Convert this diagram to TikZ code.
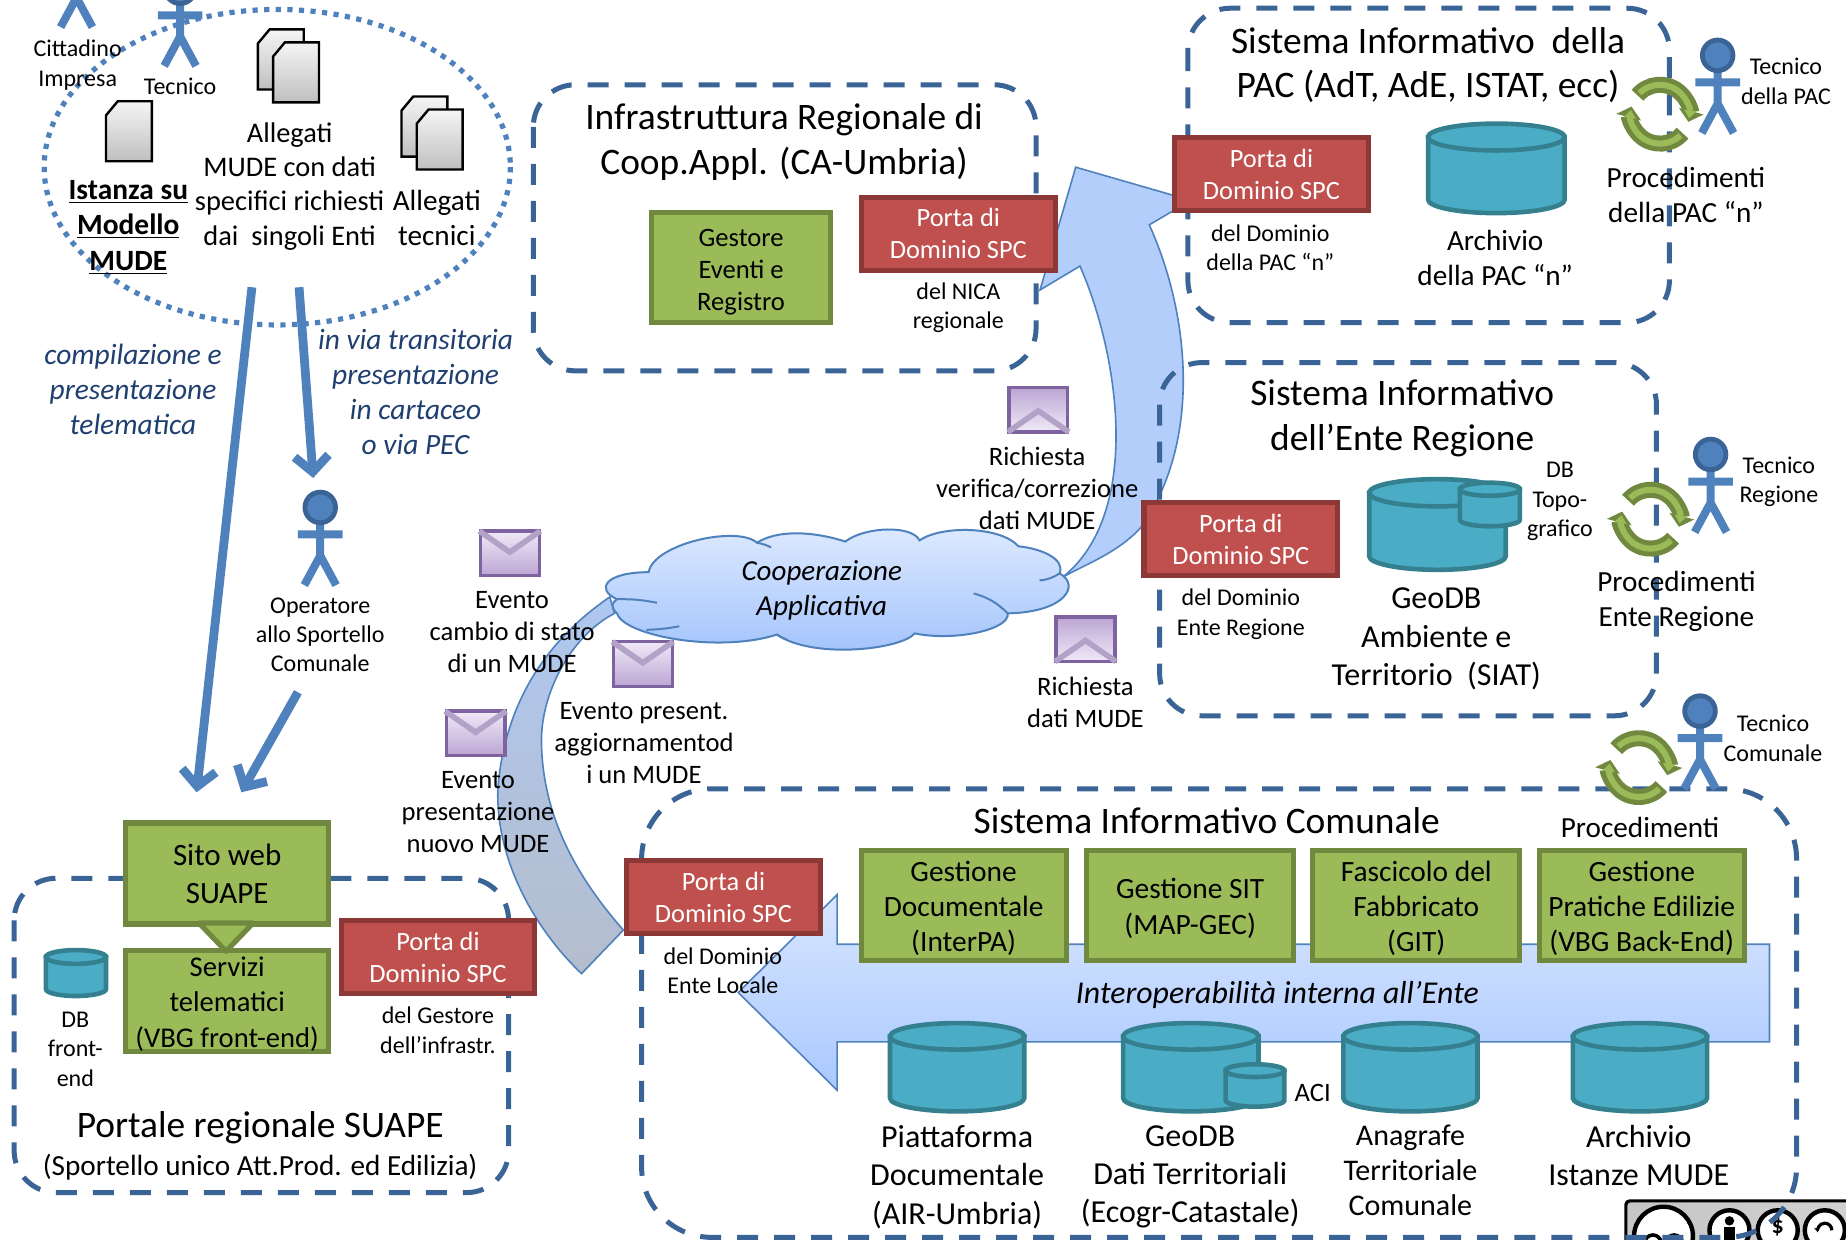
\documentclass[tikz,border=0pt]{standalone}
\usepackage{fontspec}
\setmainfont{Carlito}
\usetikzlibrary{arrows.meta}

\definecolor{bluline}{HTML}{4F81BD}
\definecolor{bluscuro}{HTML}{3B6496}
\definecolor{testoblu}{HTML}{1F3F70}
\definecolor{rosso}{HTML}{C0504D}
\definecolor{rossoscuro}{HTML}{8C3836}
\definecolor{verde}{HTML}{9BBB59}
\definecolor{verdescuro}{HTML}{71893F}
\definecolor{ciano}{HTML}{4BACC6}
\definecolor{cianoscuro}{HTML}{35808F}
\definecolor{frecciaalta}{HTML}{D8E6FF}
\definecolor{frecciabassa}{HTML}{AAC8FF}
\definecolor{frecciamedia}{HTML}{B4CEFC}
\definecolor{grigioalto}{HTML}{AFC8F0}
\definecolor{grigiomedio}{HTML}{A3B3CD}
\definecolor{grigiobasso}{HTML}{B4BDCC}
\definecolor{nuvolaalta}{HTML}{DEEAFF}
\definecolor{nuvolabassa}{HTML}{A0C2FB}
\definecolor{bustabordo}{HTML}{7F62A0}
\definecolor{bustapiega}{HTML}{B3A2C7}
\definecolor{bustachiara}{HTML}{F0EAF8}
\definecolor{bustascura}{HTML}{BBA5D3}

\newcommand{\spinta}{\rule{0pt}{13.2pt}}
\newcommand{\cilindro}[4]{%
        \pgfmathsetmacro{\dbcx}{(#1+#3)/2}%
        \pgfmathsetmacro{\dbrx}{(#3-#1)/2}%
        \pgfmathsetmacro{\dbry}{(#4-#2)*.15}%
        \pgfmathsetmacro{\dbya}{#2+\dbry}%
        \pgfmathsetmacro{\dbyb}{#4-\dbry}%
        \draw[dbcil] (#1,\dbya) -- (#1,\dbyb) arc[start angle=180,end angle=0,x radius=\dbrx,y radius=\dbry] -- (#3,\dbya) -- cycle;
        \draw[dbcil] (\dbcx,\dbya) ellipse [x radius=\dbrx,y radius=\dbry];
}

\tikzset{
        regione/.style={draw=bluscuro,line width=2.5pt,dash pattern=on 10.5pt off 8pt,rounded corners=21pt},
        portabox/.style={draw=rossoscuro,fill=rosso,line width=2.6pt,minimum width=96.8pt,minimum height=36.5pt,inner sep=0pt,align=center,text=white,font=\fontsize{13.2}{16}\selectfont},
        verdebox/.style={draw=verdescuro,fill=verde,line width=2.6pt,inner sep=0pt,align=center,font=\fontsize{14.7}{17.6}\selectfont},
        dbcil/.style={draw=cianoscuro,fill=ciano,line width=2.3pt},
        blocco/.style={draw=bluline,line width=.8pt},
        flusso/.style={draw=bluline,line width=4.4pt,-{Straight Barb[length=8pt,width=17pt]}},
        foglio/.style={draw=black,line width=1.2pt,top color=gray!8,bottom color=gray!50},
        txs/.style={inner sep=0pt,align=center,yshift=-.7pt,font=\fontsize{12}{14.7}\selectfont},
        txm/.style={inner sep=0pt,align=center,font=\fontsize{13.3}{16}\selectfont},
        txn/.style={inner sep=0pt,align=center,yshift=-.7pt,font=\fontsize{14.6}{17.2}\selectfont},
        txg/.style={inner sep=0pt,align=center,yshift=-.7pt,font=\fontsize{16}{19.2}\selectfont},
        txt/.style={inner sep=0pt,align=center,yshift=-1pt,font=\fontsize{18.7}{22.2}\selectfont},
        txblu/.style={inner sep=0pt,align=center,text=testoblu,font=\fontsize{14.7}{17.4}\selectfont\itshape},
        attore/.pic={
                \draw[bluline,line width=4pt] (0,10) -- (0,41) (-19,23) -- (19,23) (-13.5,66) -- (0,41) -- (13.5,66);
                \filldraw[fill=bluline,draw=bluscuro,line width=2.4pt] (0,0) circle (13);
        },
        ciclo/.pic={
                \draw[verdescuro,line width=8pt,-{Triangle[length=5.5pt,width=12.5pt]}] (-140:25) arc[start angle=-140,end angle=15,radius=25];
                \draw[verdescuro,line width=8pt,-{Triangle[length=5.5pt,width=12.5pt]}] (40:25) arc[start angle=40,end angle=195,radius=25];
                \draw[verde,line width=3pt,-{Triangle[length=4pt,width=6pt]}] (-134:25) arc[start angle=-134,end angle=8,radius=25];
                \draw[verde,line width=3pt,-{Triangle[length=4pt,width=6pt]}] (46:25) arc[start angle=46,end angle=188,radius=25];
        },
        doc/.pic={
                \draw[foglio] (10,0) -- (39,0) -- (39,51) -- (0,51) -- (0,12) -- cycle;
        },
        busta/.pic={
                \draw[draw=bustabordo,line width=1.6pt,top color=bustachiara,bottom color=bustascura] (-25,-19) rectangle (25,19);
                \draw[bustapiega,line width=2.8pt] (-26,-19) -- (0,-1) -- (26,-19);
        },
        bustaup/.pic={
                \draw[draw=bustabordo,line width=1.6pt,top color=bustascura,bottom color=bustachiara] (-25,-19) rectangle (25,19);
                \draw[bustapiega,line width=2.8pt] (-26,19) -- (0,1) -- (26,19);
        }
}

\begin{document}
\begin{tikzpicture}[x=.5886pt,y=-.5886pt]
        \useasboundingbox (0,0) rectangle (1568,1052.5);
        \clip (0,0) rectangle (1568,1052.5);

        \draw[draw=black,line width=1.6pt,rounded corners=2pt,left color=gray!45,right color=gray!35] (1381,1020) rectangle (1600,1090);
        \filldraw[fill=white,draw=black,line width=2.2pt] (1413,1050) circle (25);
        \filldraw[fill=white,draw=black,line width=2.2pt] (1469,1045) circle (17);
        \filldraw[fill=white,draw=black,line width=2.2pt] (1510,1045) circle (17);
        \filldraw[fill=white,draw=black,line width=2.2pt] (1550,1045) circle (17);
        \draw[black,line width=1.8pt] (1404,1056) circle (7) (1422,1056) circle (7);
        \fill[black] (1469,1037) circle (4);
        \fill[black] (1464,1042.5) rectangle (1474,1056);
        \node[inner sep=0pt,font=\bfseries\fontsize{12}{12}\selectfont] (ccdollaro) at (1510,1042) {\$};
        \draw[black,line width=1.6pt,-{Stealth[length=3pt]}] (1556,1045) arc[start angle=0,end angle=-200,radius=6];

        \draw[blocco,top color=frecciaalta,bottom color=frecciabassa] (1503,802) -- (711,802) -- (711,760) -- (627,843) -- (711,926) -- (711,885) -- (1503,885) -- cycle;

        \draw[blocco,fill=frecciamedia] (913.7,142) -- (883.4,246.3) -- (917.3,226) .. controls (950,300) and (971,435) .. (903,490) .. controls (925,478) and (948,470) .. (968.3,449) .. controls (1020,378) and (1012,270) .. (976.2,191) -- (1011.4,170.2) -- cycle;

        \draw[blocco,top color=grigioalto,middle color=grigiomedio,bottom color=grigiobasso] (518,507) .. controls (470,540) and (430,590) .. (423,668) .. controls (420,730) and (455,790) .. (494,827) -- (529.5,790) .. controls (490,745) and (462,695) .. (460,634) .. controls (458,590) and (485,540) .. (522,521) -- cycle;

        \draw[regione] (453,72) rectangle (880,315);
        \draw[regione] (1009,7) rectangle (1418,274);
        \draw[regione] (985,308) rectangle (1407,608);
        \draw[regione,rounded corners=35pt] (545,670) rectangle (1526,1051);
        \draw[regione] (12,746) rectangle (432,1013);

        \draw[draw=bluline,line width=1pt,top color=nuvolaalta,bottom color=nuvolabassa] (524,509) .. controls (505,500) and (515,486) .. (551,486) .. controls (555,462) and (626,446) .. (643,461) .. controls (660,450) and (690,451) .. (718,460) .. controls (735,447) and (775,446) .. (781,459) .. controls (800,446) and (850,447) .. (865,464) .. controls (885,466) and (905,475) .. (900,487) .. controls (918,497) and (905,520) .. (856,521) .. controls (858,535) and (810,545) .. (777,538) .. controls (765,552) and (690,560) .. (660,539) .. controls (610,555) and (530,540) .. (524,521) .. controls (518,515) and (520,512) .. (524,509) -- cycle;
        \draw[bluline,line width=1pt] (524,509) to[bend left=6] (558,512) (643,461) to[bend left=8] (655,465) (900,487) to[bend left=14] (883,493) (827,504) to[bend left=14] (856,521) (660,539) to[bend right=8] (668,543) (577,532) to[bend left=4] (549,535);

        \draw[draw=bluline,line width=2.6pt,dash pattern=on 2.6pt off 3.2pt] (235.5,142) ellipse [x radius=198,y radius=134];
        \coordinate (uscitaA) at (214,244);
        \coordinate (sitoA) at (167,673);
        \coordinate (uscitaB) at (254,244);
        \coordinate (operA) at (266,406);
        \coordinate (operB) at (253,588);
        \coordinate (sitoB) at (205,673);
        \draw[flusso] (uscitaA) -- (sitoA);
        \draw[flusso] (uscitaB) -- (operA);
        \draw[flusso] (operB) -- (sitoB);

        \pic at (65,-43) {attore};
        \pic at (153,-10) {attore};
        \pic at (272,431) {attore};
        \pic at (1459,47) {attore};
        \pic at (1453,386) {attore};
        \pic at (1444,604) {attore};
        \pic at (1410,97) {ciclo};
        \pic at (1402,441) {ciclo};
        \pic at (1392,652) {ciclo};

        \pic at (90,86) {doc};
        \pic at (219,25) {doc};
        \pic at (232,36) {doc};
        \pic at (341,82) {doc};
        \pic at (354,93) {doc};

        \pic at (433,470) {busta};
        \pic at (546,564) {busta};
        \pic at (404,623) {busta};
        \pic at (882,348) {bustaup};
        \pic at (922,543) {bustaup};

        \node[verdebox,minimum width=89.5pt,minimum height=55pt,font=\fontsize{13.3}{16}\selectfont] (gestore) at (629.5,227.5) {\spinta Gestore\\Eventi e\\Registro};
        \node[portabox] (portanica) at (814,198.5) {Porta di\\Dominio SPC};
        \node[portabox] (portapac) at (1080,148) {Porta di\\Dominio SPC};
        \node[portabox] (portareg) at (1054,458) {Porta di\\Dominio SPC};
        \node[portabox] (portacom) at (614.5,762) {Porta di\\Dominio SPC};
        \node[portabox] (portasuape) at (372,813) {Porta di\\Dominio SPC};

        \node[verdebox,minimum width=101.5pt,minimum height=50.5pt,font=\fontsize{15.5}{18.8}\selectfont] (sito) at (193,742) {Sito web\\SUAPE};
        \node[verdebox,minimum width=101.5pt,minimum height=50.5pt,font=\fontsize{14.3}{17.6}\selectfont] (servizi) at (193,850) {\spinta Servizi\\telematici\\(VBG front-end)};
        \draw[draw=verdescuro,fill=verde,line width=2.6pt,line join=round] (169,784) -- (215,784) -- (192,808) -- cycle;

        \node[verdebox,minimum width=102.5pt,minimum height=55pt] (gesdoc) at (818.5,769) {\spinta Gestione\\Documentale\\(InterPA)};
        \node[verdebox,minimum width=103.5pt,minimum height=55pt] (gessit) at (1011,769) {\spinta Gestione SIT\\(MAP-GEC)};
        \node[verdebox,minimum width=103.5pt,minimum height=55pt] (gesfab) at (1203,769) {\spinta Fascicolo del\\Fabbricato\\(GIT)};
        \node[verdebox,minimum width=102.5pt,minimum height=55pt] (gespra) at (1394.5,769) {\spinta Gestione\\Pratiche Edilizie\\(VBG Back-End)};

        \cilindro{1213}{105}{1329}{181}
        \cilindro{1163}{407}{1279}{484}
        \cilindro{1240}{410}{1291}{447}
        \cilindro{756}{869}{870}{944}
        \cilindro{954}{869}{1069}{944}
        \cilindro{1041}{904}{1091}{940}
        \cilindro{1141}{869}{1255}{944}
        \cilindro{1336}{869}{1450}{944}
        \cilindro{39}{807}{90}{846}

        \node[txs] (cittadino) at (66,54) {Cittadino\\Impresa};
        \node[txs] (tecnico) at (153,72) {Tecnico};
        \node[txn,font=\fontsize{14.2}{17.2}\selectfont] (allegatimude) at (246,157) {Allegati\\MUDE con dati\\specifici richiesti\\dai\ \ singoli Enti};
        \node[txn] (allegatitec) at (371,184) {Allegati\\tecnici};
        \node[txn,font=\bfseries\fontsize{14.7}{17.6}\selectfont] (istanza) at (109,192) {\underline{Istanza su}\\\underline{Modello}\\\underline{MUDE}};
        \node[txblu] (compilazione) at (113,331) {compilazione e\\presentazione\\telematica};
        \node[txblu] (transitoria) at (353,333) {in via transitoria\\presentazione\\in cartaceo\\o via PEC};
        \node[txs] (operatore) at (272,538) {Operatore\\allo Sportello\\Comunale};

        \node[txt] (titinfra) at (666,119) {Infrastruttura Regionale di\\Coop.Appl. (CA-Umbria)};
        \node[txs] (delnica) at (814,260) {del NICA\\regionale};
        \node[txt] (titpac) at (1213,53.5) {Sistema Informativo\ \ della\\PAC (AdT, AdE, ISTAT, ecc)};
        \node[txs] (delpac) at (1079,209.5) {del Dominio\\della PAC “n”};
        \node[txn] (archpac) at (1270,218) {Archivio\\della PAC “n”};
        \node[txn] (procpac) at (1432,164.5) {Procedimenti\\della PAC “n”};
        \node[txs] (tecpac) at (1517,68) {Tecnico\\della PAC};

        \node[txt] (titreg) at (1191,353.5) {Sistema Informativo\\dell’Ente Regione};
        \node[txs] (delreg) at (1054,520.5) {del Dominio\\Ente Regione};
        \node[txs] (dbtopo) at (1325,425) {DB\\Topo-\\grafico};
        \node[txg] (geosiat) at (1220,541.5) {GeoDB\\Ambiente e\\Territorio\ \ (SIAT)};
        \node[txn] (procreg) at (1424,509.5) {Procedimenti\\Ente Regione};
        \node[txs] (tecreg) at (1511,408) {Tecnico\\Regione};

        \node[txm] (ricverifica) at (881,415) {Richiesta\\verifica/correzione\\dati MUDE};
        \node[txm] (ricdati) at (922,596.5) {Richiesta\\dati MUDE};
        \node[txm] (evcambio) at (435,537) {Evento\\cambio di stato\\di un MUDE};
        \node[txm] (evpresent) at (547,631) {Evento present.\\aggiornamentod\\i un MUDE};
        \node[txm] (evnuovo) at (406,690) {Evento\\presentazione\\nuovo MUDE};
        \node[txn,font=\itshape\fontsize{14.5}{17.6}\selectfont] (cooperazione) at (698,500) {Cooperazione\\Applicativa};

        \node[txs] (delgestore) at (372,874) {del Gestore\\dell’infrastr.};
        \node[txs] (dbfront) at (64,890) {DB\\front-\\end};
        \node[txt] (titsuape) at (221,956) {Portale regionale SUAPE};
        \node[txn] (sportello) at (221,990) {(Sportello unico Att.Prod. ed Edilizia)};

        \node[txt] (titcom) at (1025,695.5) {Sistema Informativo Comunale};
        \node[txn] (proccom) at (1393,702) {Procedimenti};
        \node[txs] (teccom) at (1506,626) {Tecnico\\Comunale};
        \node[txs] (delcom) at (614,823.5) {del Dominio\\Ente Locale};
        \node[txg,font=\itshape\fontsize{15.9}{18}\selectfont] (interop) at (1085,844) {Interoperabilità interna all’Ente};
        \node[txm] (aci) at (1115,928) {ACI};
        \node[txg] (piatta) at (813,998.5) {Piattaforma\\Documentale\\(AIR-Umbria)};
        \node[txg] (geoter) at (1011,998.5) {GeoDB\\Dati Territoriali\\(Ecogr-Catastale)};
        \node[txn,font=\fontsize{15}{17.6}\selectfont] (anagrafe) at (1198,993) {Anagrafe\\Territoriale\\Comunale};
        \node[txg] (archist) at (1392,980.5) {Archivio\\Istanze MUDE};
\end{tikzpicture}
\end{document}
